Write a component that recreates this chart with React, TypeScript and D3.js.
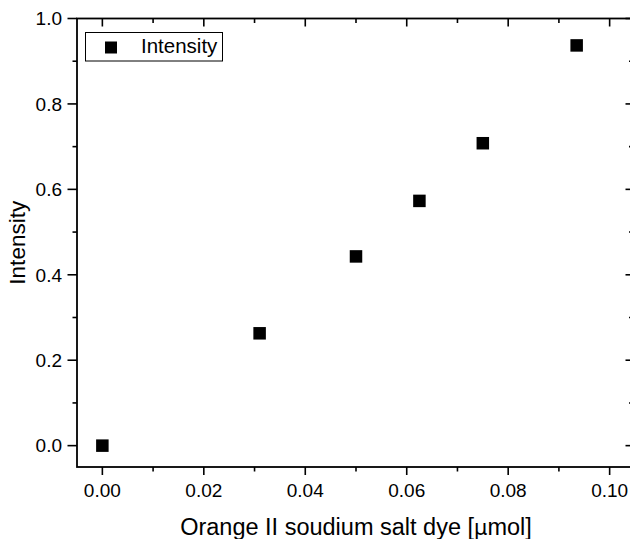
import React from "react";
import * as d3 from "d3";

const xValues = [0.0, 0.031, 0.05, 0.0625, 0.075, 0.0935];
const yValues = [0.0, 0.263, 0.443, 0.573, 0.708, 0.937];
const xTicks = [0.0, 0.02, 0.04, 0.06, 0.08, 0.1];
const yTicks = [0.0, 0.2, 0.4, 0.6, 0.8, 1.0];
const xMinor = [0.01, 0.03, 0.05, 0.07, 0.09];
const yMinor = [0.1, 0.3, 0.5, 0.7, 0.9];
const seriesName = "Intensity";
const xTitle = "Orange II soudium salt dye [";
const yTitle = "Intensity";

const W = 630;
const H = 539;
const left = 77;
const right = 635;
const top = 18.5;
const bottom = 467;
const font = "'Liberation Sans', Arial, sans-serif";

export default function App() {
  const x = d3.scaleLinear().domain([-0.005, 0.105]).range([left, right]);
  const y = d3.scaleLinear().domain([-0.05, 1.0]).range([bottom, top]);
  const ms = 12.5;
  const major = 8;
  const minor = 4.5;
  return (
    <svg
      width={W}
      height={H}
      style={{ position: "absolute", left: 0, top: 0, background: "#fff" }}
      fontFamily={font}
    >
      <rect x={0} y={0} width={W} height={H} fill="#fff" />
      <rect x={left} y={top} width={right - left} height={bottom - top} fill="none" stroke="#000" strokeWidth={1.8} />
      {xTicks.map((t) => (
        <g key={"xt" + t}>
          <line x1={x(t)} x2={x(t)} y1={bottom} y2={bottom + major} stroke="#000" strokeWidth={1.6} />
          <line x1={x(t)} x2={x(t)} y1={top} y2={top + major} stroke="#000" strokeWidth={1.6} />
          <text x={x(t)} y={497} fontSize={19} textAnchor="middle" fill="#000">
            {d3.format(".2f")(t)}
          </text>
        </g>
      ))}
      {xMinor.map((t) => (
        <g key={"xm" + t}>
          <line x1={x(t)} x2={x(t)} y1={bottom} y2={bottom + minor} stroke="#000" strokeWidth={1.6} />
          <line x1={x(t)} x2={x(t)} y1={top} y2={top + minor} stroke="#000" strokeWidth={1.6} />
        </g>
      ))}
      {yTicks.map((t) => (
        <g key={"yt" + t}>
          <line x1={left - major - 1.5} x2={left} y1={y(t)} y2={y(t)} stroke="#000" strokeWidth={1.6} />
          <line x1={right} x2={right - major - 1.5} y1={y(t)} y2={y(t)} stroke="#000" strokeWidth={1.6} />
          <text x={62} y={y(t) + 6.8} fontSize={19} textAnchor="end" fill="#000">
            {d3.format(".1f")(t)}
          </text>
        </g>
      ))}
      {yMinor.map((t) => (
        <g key={"ym" + t}>
          <line x1={left - minor} x2={left} y1={y(t)} y2={y(t)} stroke="#000" strokeWidth={1.6} />
          <line x1={right} x2={right - minor - 1.5} y1={y(t)} y2={y(t)} stroke="#000" strokeWidth={1.6} />
        </g>
      ))}
      {xValues.map((v, i) => (
        <rect
          key={"p" + i}
          x={x(v) - ms / 2}
          y={y(yValues[i]) - ms / 2}
          width={ms}
          height={ms}
          fill="#000"
        />
      ))}
      <rect x={85.5} y={32.5} width={137} height={28.5} fill="#fff" stroke="#000" strokeWidth={1} />
      <rect x={111 - 6} y={47.5 - 6} width={12} height={12} fill="#000" />
      <text x={141} y={53} fontSize={20.5} fill="#000">{seriesName}</text>
      <text x={356} y={535} fontSize={23.5} textAnchor="middle" fill="#000">
        {xTitle}
        <tspan fontFamily="'DejaVu Sans', sans-serif" fontSize={21}>{"\u03bc"}</tspan>
        {"mol]"}
      </text>
      <text
        transform={`translate(25, ${(top + bottom) / 2}) rotate(-90)`}
        fontSize={22.5}
        textAnchor="middle"
        fill="#000"
      >
        {yTitle}
      </text>
    </svg>
  );
}
